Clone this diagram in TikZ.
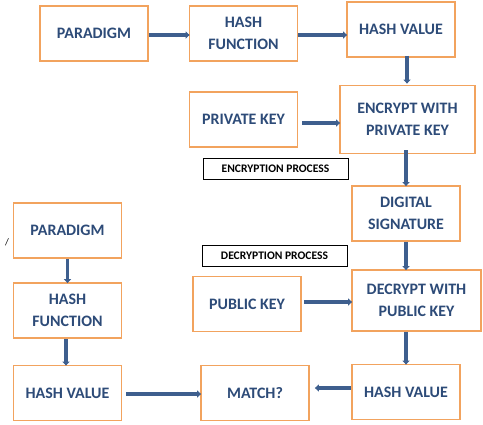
\documentclass[tikz,border=0pt]{standalone}
\usepackage{fontspec}
\setmainfont{Carlito}
\usetikzlibrary{arrows.meta}
\definecolor{boxorange}{HTML}{F2A35E}
\definecolor{txtblue}{HTML}{2D4B78}
\definecolor{arrblue}{HTML}{3E5F8E}
\tikzset{
  flowbox/.style={draw=boxorange, line width=1.8bp, fill=white, text=txtblue,
    font=\fontsize{16}{22}\selectfont\bfseries, align=center,
    minimum width=108bp, minimum height=55bp, inner sep=2bp},
  tagbox/.style={draw=black, line width=0.8bp, fill=white, text=black,
    font=\fontsize{11.6}{13}\selectfont\bfseries, minimum width=145bp, minimum height=21bp, inner sep=1bp},
  flowarrow/.style={draw=arrblue, line width=3.6bp,
    -{Triangle[width=7bp,length=4bp]}, shorten >=-1bp},
}
\begin{document}
\begin{tikzpicture}[x=1bp,y=-1bp]
\useasboundingbox (0,0) rectangle (483,424);
% top chain
\node[flowbox] (p1) at (94,33.5) {PARADIGM};
\node[flowbox] (h1) at (243.5,33.5) {HASH\\FUNCTION};
\node[flowbox] (v1) at (401,29.5) {HASH VALUE};
\node[flowbox] (pk) at (243.5,119.5) {PRIVATE KEY};
\node[flowbox, minimum width=135bp, minimum height=68bp] (enc) at (407.5,119.5) {ENCRYPT WITH\\PRIVATE KEY};
\node[tagbox] (encp) at (275.5,169) {ENCRYPTION PROCESS};
\node[flowbox] (ds) at (406,213.5) {DIGITAL\\SIGNATURE};
\node[tagbox] (decp) at (274.5,255.5) {DECRYPTION PROCESS};
\node[flowbox] (pub) at (247,304) {PUBLIC KEY};
\node[flowbox, minimum width=129bp, minimum height=61bp] (dec) at (416.5,300.5) {DECRYPT WITH\\PUBLIC KEY};
\node[flowbox] (v2) at (406,392) {HASH VALUE};
% left chain
\node[flowbox] (p2) at (67.5,230.5) {PARADIGM};
\node[flowbox] (h2) at (67.5,310.5) {HASH\\FUNCTION};
\node[flowbox] (v3) at (67.5,393) {HASH VALUE};
\node[flowbox] (m) at (255,393) {MATCH?};
\node[text=black, font=\fontsize{10}{11}\selectfont, inner sep=0pt] (slash) at (7,242) {/};
% arrows
\draw[flowarrow] ([yshift=-1.5bp]p1.east) -- ([yshift=-1.5bp]p1.east -| h1.west);
\draw[flowarrow] ([yshift=-1.5bp]h1.east) -- ([yshift=-1.5bp]h1.east -| v1.west);
\draw[flowarrow] ([xshift=6bp,yshift=2bp]v1.south) -- ([xshift=6bp,yshift=2bp]v1.south |- enc.north);
\draw[flowarrow, shorten <=4bp] ([yshift=-3.5bp]pk.east) -- ([yshift=-3.5bp]pk.east -| enc.west);
\draw[flowarrow] ([yshift=4bp]enc.south -| ds.north) -- (ds.north);
\draw[flowarrow] (ds.south) -- (ds.south |- dec.north);
\draw[flowarrow, shorten <=2bp] ([yshift=2bp]pub.east) -- ([yshift=2bp]pub.east -| dec.west);
\draw[flowarrow] (dec.south -| v2.north) -- (v2.north);
\draw[flowarrow] (p2.south) -- (h2.north);
\draw[flowarrow] ([xshift=-1.5bp]h2.south) -- ([xshift=-1.5bp]v3.north);
\draw[flowarrow, shorten <=4bp] ([yshift=-1bp]v3.east) -- ([yshift=-1bp]v3.east -| m.west);
\draw[flowarrow, shorten >=5bp] ([yshift=4bp]v2.west) -- ([yshift=4bp]v2.west -| m.east);
\end{tikzpicture}
\end{document}
